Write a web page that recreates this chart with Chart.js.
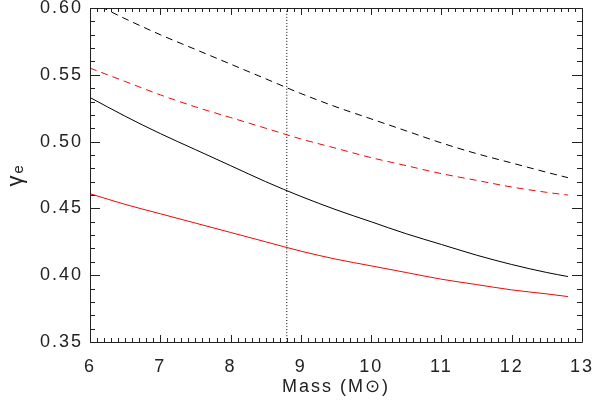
<!DOCTYPE html>
<html>
<head>
<meta charset="utf-8">
<script src="https://cdn.jsdelivr.net/npm/chart.js@4.4.1/dist/chart.umd.min.js"></script>
<style>
    html, body { margin: 0; padding: 0; background: #fff; }
    #wrap { width: 595px; height: 407px; }
</style>
</head>
<body>
<div id="wrap"><canvas id="gammaChart" width="595" height="407"></canvas></div>
<script>
// mass grid (solar masses) and gamma_e curves
const masses      = [6.0, 6.5, 7.0, 7.5, 8.0, 8.5, 9.0, 9.5, 10.0, 10.5, 11.0, 11.5, 12.0, 12.5, 12.8];
const blackDashed = [0.605, 0.592, 0.580, 0.569, 0.558, 0.547, 0.536, 0.526, 0.517, 0.508, 0.499, 0.491, 0.484, 0.477, 0.473];
const redDashed   = [0.555, 0.545, 0.535, 0.526, 0.518, 0.510, 0.502, 0.495, 0.488, 0.482, 0.476, 0.471, 0.466, 0.462, 0.460];
const blackSolid  = [0.533, 0.519, 0.506, 0.494, 0.482, 0.470, 0.459, 0.449, 0.440, 0.431, 0.423, 0.415, 0.408, 0.402, 0.399];
const redSolid    = [0.461, 0.453, 0.446, 0.439, 0.432, 0.425, 0.418, 0.412, 0.407, 0.402, 0.397, 0.393, 0.389, 0.386, 0.384];

// vertical dotted marker
const markerMass = 8.8;

// axis ranges
const xMin = 6, xMax = 13;
const yMin = 0.35, yMax = 0.60;

function toPoints(ys) {
    return masses.map((m, i) => ({ x: m, y: ys[i] }));
}

// wider letter spacing for the labels, like the IDL fonts
const spacing = {
    id: 'spacing',
    beforeDraw(chart) { chart.ctx.letterSpacing = '2px'; },
    afterDraw(chart) { chart.ctx.letterSpacing = '0px'; }
};

// IDL style frame with inward ticks on all four sides
const innerTicks = {
    id: 'innerTicks',
    afterDraw(chart) {
        const { ctx, chartArea: a, scales: { x, y } } = chart;
        ctx.save();
        ctx.strokeStyle = '#222';
        ctx.lineWidth = 1;
        ctx.beginPath();
        ctx.rect(Math.round(a.left) + 0.5, Math.round(a.top) + 0.5,
                 Math.round(a.right - a.left), Math.round(a.bottom - a.top));

        // x ticks: major every 1, minor every 0.1
        for (let i = 0; i <= (xMax - xMin) * 10; i++) {
            const px = Math.round(x.getPixelForValue(xMin + i / 10)) + 0.5;
            const len = i % 10 === 0 ? 7 : 4;
            ctx.moveTo(px, a.bottom);
            ctx.lineTo(px, a.bottom - len);
            ctx.moveTo(px, a.top);
            ctx.lineTo(px, a.top + len);
        }
        // y ticks: major every 0.05, minor every 0.01
        for (let i = 0; i <= Math.round((yMax - yMin) * 100); i++) {
            const py = Math.round(y.getPixelForValue(yMin + i / 100)) + 0.5;
            const len = i % 5 === 0 ? 10 : 5;
            ctx.moveTo(a.left, py);
            ctx.lineTo(a.left + len, py);
            ctx.moveTo(a.right, py);
            ctx.lineTo(a.right - len, py);
        }
        ctx.stroke();
        ctx.restore();
    }
};

const fontFamily = '"Liberation Sans", Arial, sans-serif';

const ctx = document.getElementById('gammaChart').getContext('2d');
new Chart(ctx, {
    type: 'line',
    data: {
        datasets: [
            { data: toPoints(blackDashed), borderColor: '#000', borderDash: [7, 5] },
            { data: toPoints(redDashed), borderColor: '#ff0000', borderDash: [7, 5] },
            { data: toPoints(blackSolid), borderColor: '#000' },
            { data: toPoints(redSolid), borderColor: '#ff0000' },
            {
                data: [{ x: markerMass, y: yMin }, { x: markerMass, y: yMax }],
                borderColor: '#000', borderDash: [1, 2]
            }
        ]
    },
    options: {
        responsive: false,
        animation: false,
        layout: { padding: { top: 8, right: 13, left: 0, bottom: 0 } },
        datasets: {
            line: {
                borderWidth: 1,
                pointRadius: 0,
                fill: false,
                cubicInterpolationMode: 'monotone'
            }
        },
        plugins: {
            legend: { display: false },
            tooltip: { enabled: false }
        },
        scales: {
            x: {
                type: 'linear',
                min: xMin,
                max: xMax,
                grid: { display: false, drawTicks: false },
                border: { display: false },
                ticks: {
                    stepSize: 1,
                    padding: 14,
                    color: '#222',
                    maxRotation: 0,
                    font: { family: fontFamily, size: 18 }
                },
                title: {
                    display: true,
                    text: 'Mass (M\u2299)',
                    color: '#222',
                    padding: { top: 0, bottom: 9 },
                    font: { family: fontFamily, size: 18 }
                },
                afterFit(scale) {
                    scale.height = 65;
                    scale.paddingLeft = 0;
                    scale.paddingRight = 0;
                }
            },
            y: {
                min: yMin,
                max: yMax,
                grid: { display: false, drawTicks: false },
                border: { display: false },
                ticks: {
                    stepSize: 0.05,
                    padding: 7,
                    color: '#222',
                    font: { family: fontFamily, size: 18 },
                    callback: v => v.toFixed(2)
                },
                title: {
                    display: true,
                    text: '\u03b3\u2091',
                    color: '#222',
                    padding: { top: 3, bottom: 0 },
                    font: { family: fontFamily, size: 22 }
                },
                afterFit(scale) {
                    scale.width = 90;
                    scale.paddingTop = 0;
                    scale.paddingBottom = 0;
                }
            }
        }
    },
    plugins: [spacing, innerTicks]
});
</script>
</body>
</html>
